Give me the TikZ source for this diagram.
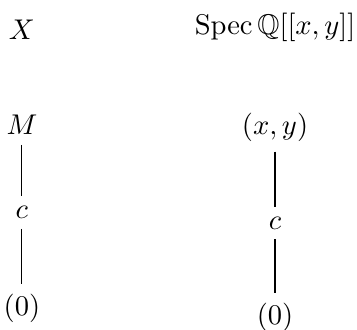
\documentclass[tikz,border=0pt]{standalone}
\usepackage{amsmath}
\usepackage{amssymb}
\usepackage{tikz}
\usetikzlibrary{positioning}

\begin{document}
\begin{tikzpicture}[thin]
  \useasboundingbox (0,0) rectangle (4.40,-4.06);

  % Schema X a jeho body
  \node (X) at (0.27,-0.37) {$X$};
  \node (M) at (0.27,-1.54) {$M$};
  \node (cl) at (0.27,-2.62) {$c$};
  \node (zl) at (0.27,-3.80) {$(0)$};
  \draw (M) -- (cl);
  \draw (cl) -- (zl);

  % Spec Q[[x,y]] a jeho body
  \node (S) at (3.39,-0.34) {$\operatorname{Spec}\mathbb{Q}[[x,y]]$};
  \node (xy) at (3.39,-1.57) {$(x,y)$};
  \node (cr) at (3.39,-2.75) {$c$};
  \node (zr) at (3.39,-3.91) {$(0)$};
  \draw (xy) -- (cr);
  \draw (cr) -- (zr);
\end{tikzpicture}
\end{document}
